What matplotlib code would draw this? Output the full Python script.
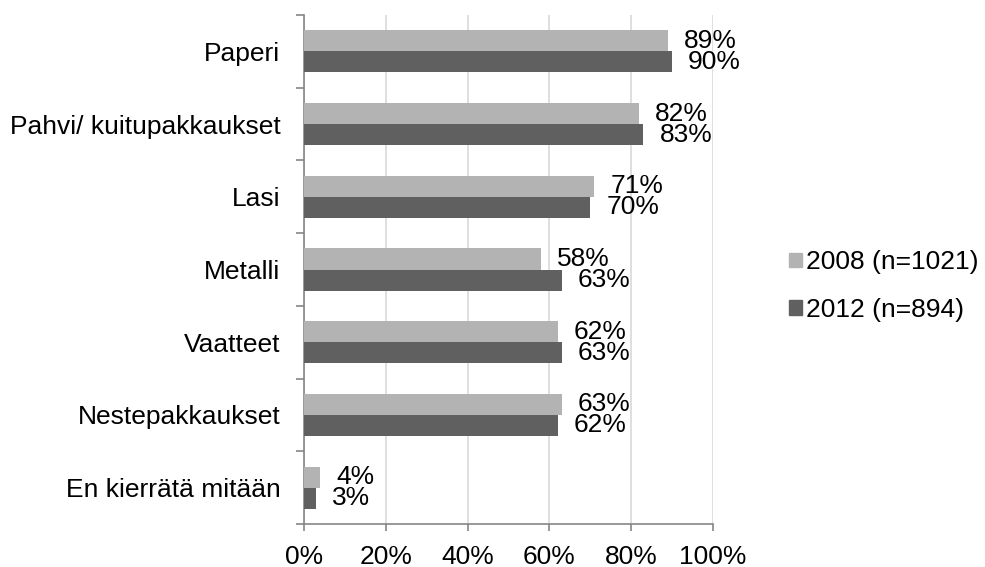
import matplotlib
matplotlib.use("Agg")
import matplotlib.pyplot as plt
import matplotlib.patches as mpatches
import numpy as np

plt.rcParams['font.family'] = ['Liberation Sans', 'DejaVu Sans']

categories = ["Paperi", "Pahvi/ kuitupakkaukset", "Lasi", "Metalli",
              "Vaatteet", "Nestepakkaukset", "En kierrätä mitään"]
values_2008 = [89, 82, 71, 58, 62, 63, 4]
values_2012 = [90, 83, 70, 63, 63, 62, 3]
series_labels = ["2008 (n=1021)", "2012 (n=894)"]
x_ticks = [0, 20, 40, 60, 80, 100]

LIGHT = "#b3b3b3"
DARK = "#606060"
AXIS = "#868686"
GRID = "#d9d9d9"
FS = 19

fig = plt.figure(figsize=(9.85, 5.67), dpi=100)
ax = fig.add_axes([304 / 985, 1 - 524 / 567, 409 / 985, 509 / 567])

y = np.arange(len(categories))
h = 0.29
bars1 = ax.barh(y - h / 2, values_2008, h, color=LIGHT, zorder=3)
bars2 = ax.barh(y + h / 2, values_2012, h, color=DARK, zorder=3)

for bars, vals in ((bars1, values_2008), (bars2, values_2012)):
    for bar, v in zip(bars, vals):
        ax.annotate(f"{v}%", (v, bar.get_y() + bar.get_height() / 2),
                    xytext=(11.5, 0), textcoords="offset points",
                    ha='left', va='center', fontsize=FS, color='black')

ax.set_xlim(0, 100)
ax.set_ylim(len(categories) - 0.5, -0.5)
ax.set_xticks(x_ticks)
ax.set_xticklabels([f"{t}%" for t in x_ticks], fontsize=FS)
ax.set_yticks(y)
ax.set_yticklabels(categories, fontsize=FS)
ax.set_yticks(np.arange(-0.5, len(categories)), minor=True)
ax.tick_params(axis='y', which='major', length=0, pad=17)
ax.tick_params(axis='y', which='minor', length=6, color=AXIS, width=1.2)
ax.tick_params(axis='x', length=5, color=AXIS, width=1.2, pad=10)

ax.grid(axis='x', color=GRID, linewidth=1.2, zorder=0)
for s in ('top', 'right'):
    ax.spines[s].set_visible(False)
for s in ('left', 'bottom'):
    ax.spines[s].set_color(AXIS)
    ax.spines[s].set_linewidth(1.2)

handles = [mpatches.Patch(color=LIGHT, label=series_labels[0]),
           mpatches.Patch(color=DARK, label=series_labels[1])]
fig.legend(handles=handles, loc='center left', bbox_to_anchor=(789 / 985, 1 - 286 / 567),
           frameon=False, fontsize=FS, handlelength=0.48, handleheight=0.48,
           handletextpad=0.15, labelspacing=0.88, borderaxespad=0, borderpad=0)

fig.savefig("out.png", dpi=100)
